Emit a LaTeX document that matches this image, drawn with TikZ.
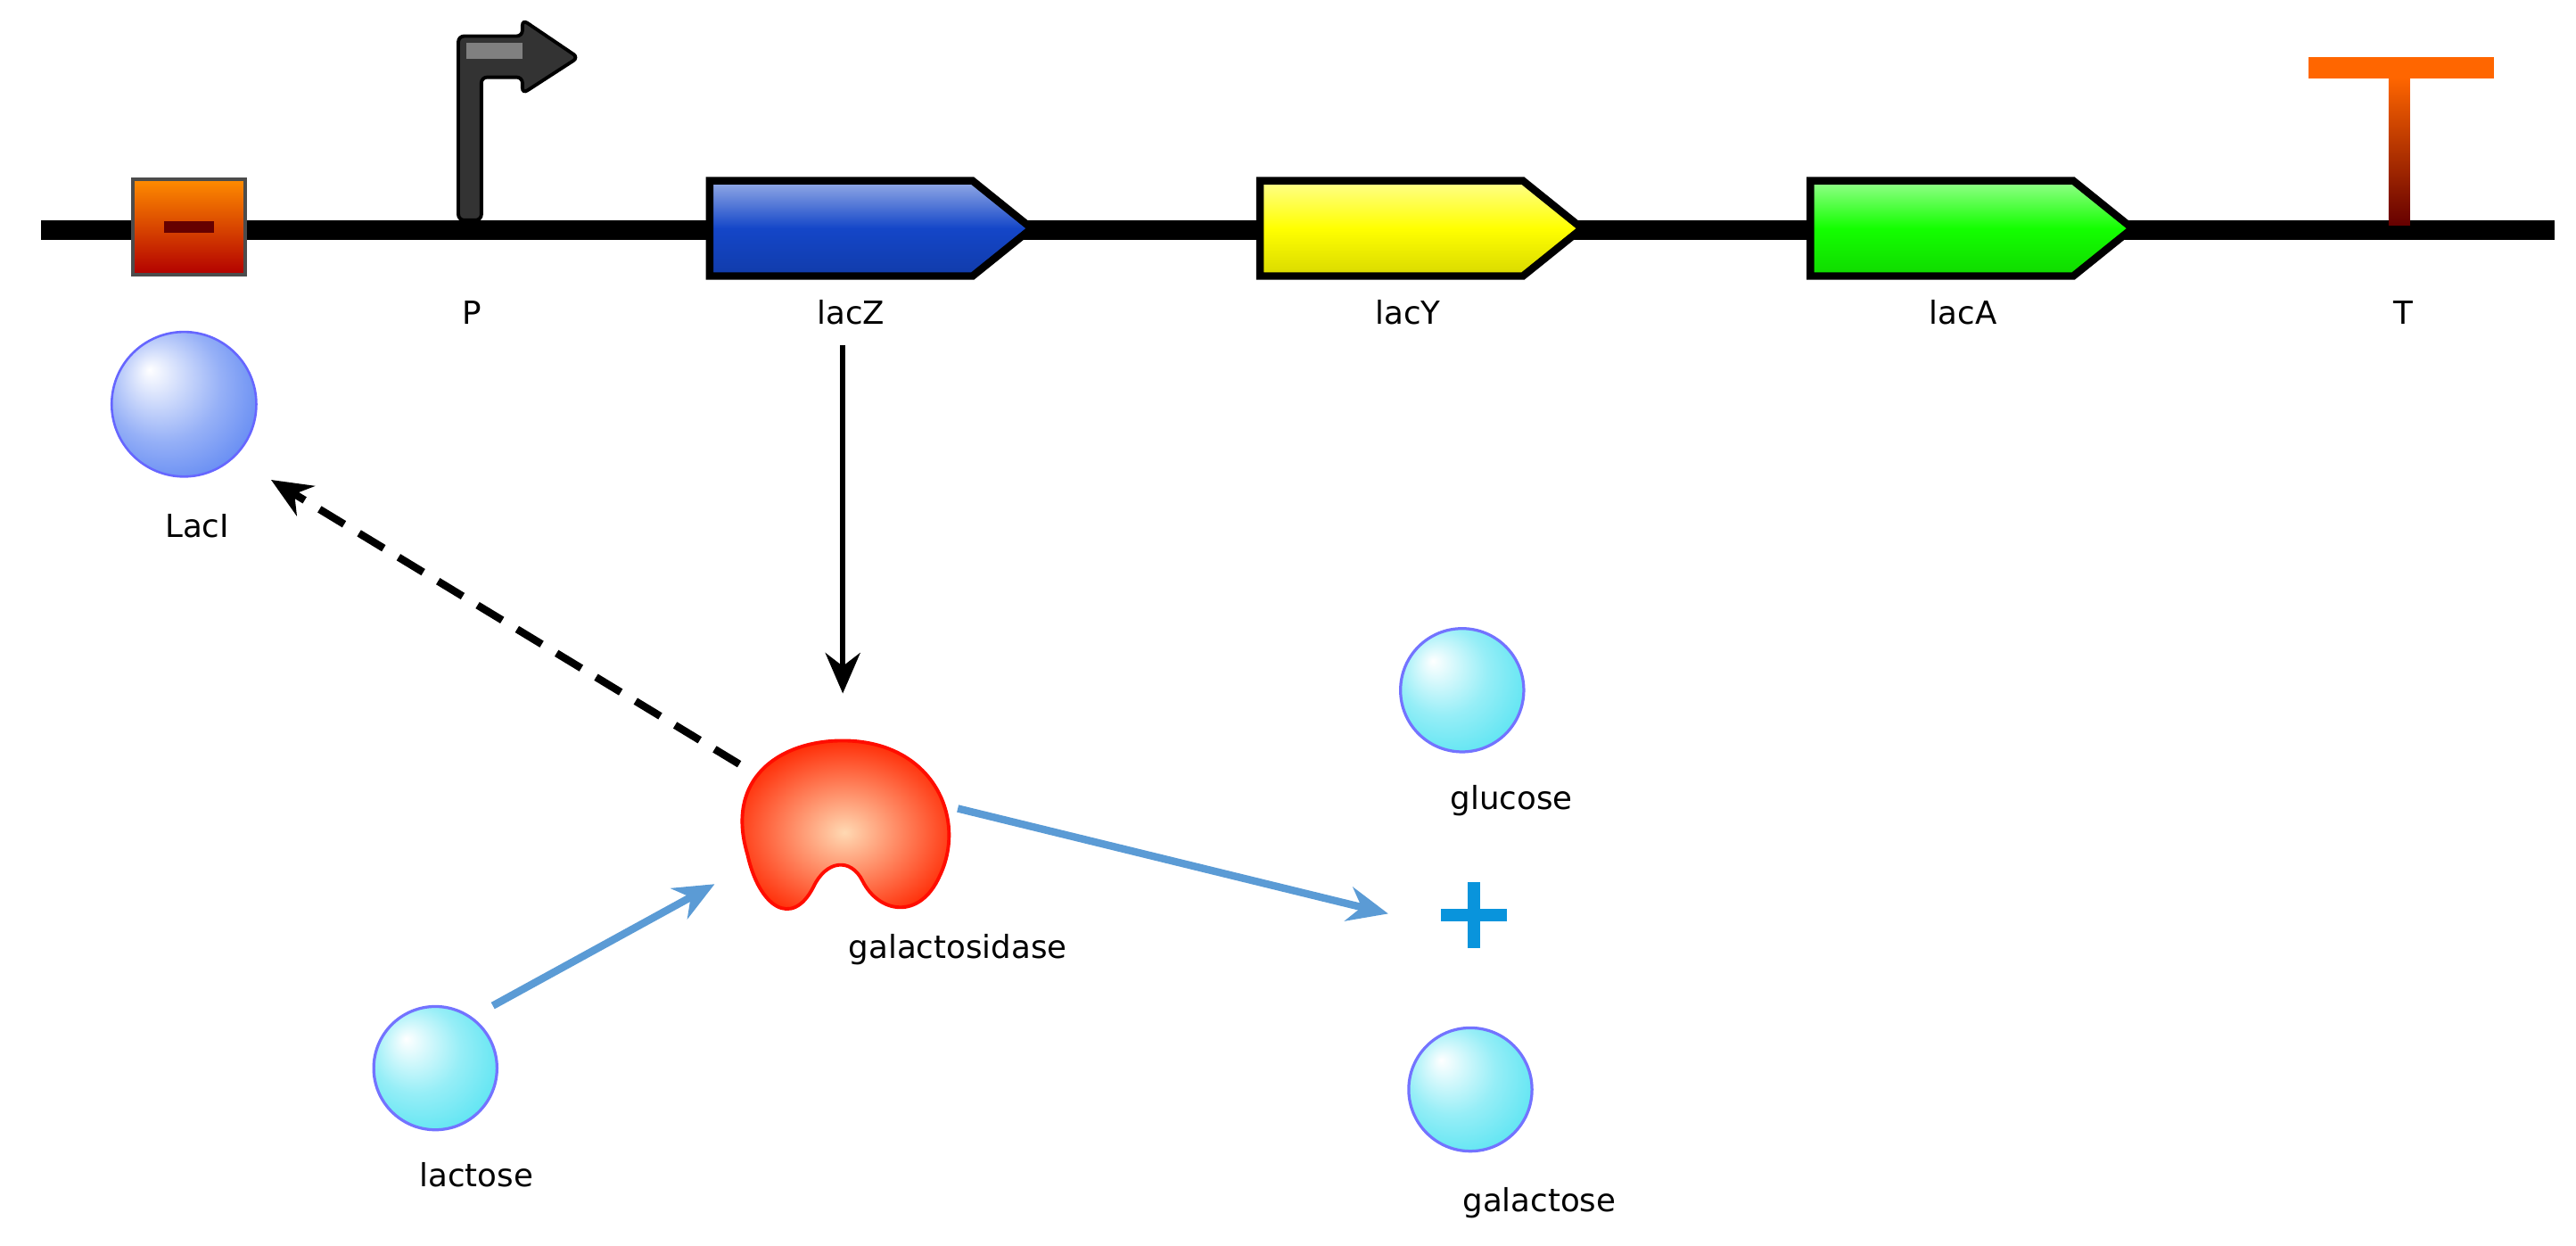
\documentclass[tikz,border=0pt]{standalone}
\usepackage{fontspec}
\setmainfont{DejaVu Sans}
\usetikzlibrary{arrows.meta,shadings}
\definecolor{arrblue}{HTML}{5B9BD5}
\definecolor{cyb}{HTML}{40E0F0}
\definecolor{bub}{HTML}{4070F0}
\definecolor{zblue}{HTML}{1446C8}
\pgfdeclareradialshading{cball}{\pgfpoint{-12bp}{12bp}}{color(0bp)=(white); color(18bp)=(cyb!55!white); color(40bp)=(cyb); color(50bp)=(cyb)}
\pgfdeclareradialshading{bball}{\pgfpoint{-12bp}{12bp}}{color(0bp)=(white); color(20bp)=(bub!55!white); color(42bp)=(bub); color(50bp)=(bub)}
\begin{document}
\begin{tikzpicture}[x=0.01cm,y=-0.01cm,
  lbl/.style={font=\fontsize{5.5}{6.5}\selectfont},
  gene/.style={draw=black,line width=1.3pt,top color=#1!45!white,bottom color=#1!85!black,middle color=#1},
  sph/.style={circle,draw=blue!55,line width=0.5pt,shading=cball,inner sep=0,minimum size=0.75cm},
  blu/.style={-{Stealth[length=7pt,width=6pt]},draw=arrblue,line width=1.3pt}]
\useasboundingbox (0,0) rectangle (1568,758);
% DNA
\coordinate (d0) at (25,140); \coordinate (d1) at (1555,140);
\draw[line width=3.3pt] (d0) -- (d1);
% operator
\node[draw=black!70,line width=0.6pt,minimum width=0.68cm,minimum height=0.58cm,top color=orange!90!yellow,bottom color=red!70!black,inner sep=0] (op) at (115,138) {};
\draw[line width=2pt,red!40!black] (100,138) -- (130,138);
% promoter
\fill[black] (275,134) rectangle (291,140);
\draw[line width=0.6pt,fill=black!80,rounded corners=1pt] (279,134) -- (279,22) -- (318,22) -- (318,12) -- (352,35) -- (318,57) -- (318,47) -- (293,47) -- (293,134) -- cycle;
\fill[black!50] (284,26) rectangle (318,36);
\node[lbl] (P) at (287,190) {P};
% genes
\draw[gene=zblue] (432,110) -- (592,110) -- (628,139) -- (592,168) -- (432,168) -- cycle;
\draw[gene=yellow] (767,110) -- (927,110) -- (963,139) -- (927,168) -- (767,168) -- cycle;
\draw[gene=green!90!lime] (1102,110) -- (1262,110) -- (1298,139) -- (1262,168) -- (1102,168) -- cycle;
\node[lbl] (lacZ) at (518,190) {lacZ};
\node[lbl] (lacY) at (857,190) {lacY};
\node[lbl] (lacA) at (1195,190) {lacA};
% terminator
\shade[top color=orange!80!red,bottom color=red!40!black] (1454,47) rectangle (1467,137);
\fill[orange!80!red] (1405,35) rectangle (1518,48);
\node[lbl] (T) at (1463,190) {T};
% LacI
\node[circle,draw=blue!60,shading=bball,minimum size=0.88cm,inner sep=0] (laci) at (112,246) {};
\node[lbl] (lacIl) at (120,320) {LacI};
% galactosidase
\shade[inner color=orange!30!white,outer color=red!70!orange,draw=red!90!orange,line width=0.6pt]
 (455,520) .. controls (440,470) and (480,448) .. (520,451) .. controls (570,455) and (588,500) .. (572,533)
 .. controls (560,560) and (535,556) .. (525,536) .. controls (518,522) and (503,523) .. (495,540)
 .. controls (482,565) and (462,552) .. (455,520) -- cycle;
\node[lbl] (gall) at (583,578) {galactosidase};
% other molecules
\node[sph] (glc) at (890,420) {};
\node[lbl] (glcl) at (920,487) {glucose};
\node[sph] (gla) at (895,663) {};
\node[lbl] (glal) at (937,732) {galactose};
\node[sph] (lac) at (265,650) {};
\node[lbl] (lacl) at (290,715) {lactose};
\coordinate (plus) at (897,557);
\draw[cyan!80!blue,line width=2.2pt] ([xshift=-0.2cm]plus) -- ([xshift=0.2cm]plus) ([yshift=-0.2cm]plus) -- ([yshift=0.2cm]plus);
% arrows
\coordinate (zt) at (513,210); \coordinate (gt) at (513,422);
\draw[-{Stealth[length=7pt,width=6pt]},line width=1pt] (zt) -- (gt);
\coordinate (gd) at (450,465); \coordinate (ld) at (165,292);
\draw[-{Stealth[length=7pt,width=6pt]},line width=1.3pt,dash pattern=on 5pt off 3pt] (gd) -- (ld);
\coordinate (la) at (300,612); \coordinate (lb) at (435,538);
\draw[blu] (la) -- (lb);
\coordinate (ga) at (583,492); \coordinate (gb) at (845,556);
\draw[blu] (ga) -- (gb);
\end{tikzpicture}
\end{document}
